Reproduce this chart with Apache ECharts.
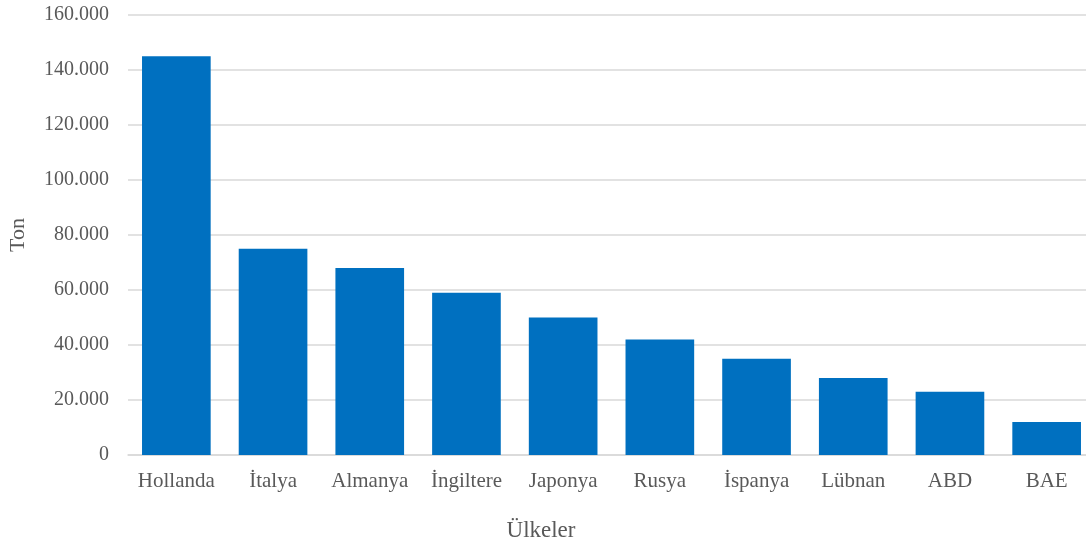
<!DOCTYPE html>
<html>
<head>
<meta charset="utf-8">
<script src="https://cdn.jsdelivr.net/npm/echarts@6/dist/echarts.min.js"></script>
<style>
html,body{margin:0;padding:0;background:#fff;}
#chart{width:1086px;height:544px;}
</style>
</head>
<body>
<div id="chart"></div>
<script>
const categories = ['Hollanda', 'İtalya', 'Almanya', 'İngiltere', 'Japonya', 'Rusya', 'İspanya', 'Lübnan', 'ABD', 'BAE'];
const values = [145000, 75000, 68000, 59000, 50000, 42000, 35000, 28000, 23000, 12000];
const yAxisTitle = 'Ton';
const xAxisTitle = 'Ülkeler';

const fmt = v => String(v).replace(/\B(?=(\d{3})+(?!\d))/g, '.');
const font = '"Liberation Serif", "Times New Roman", serif';
const chart = echarts.init(document.getElementById('chart'), null, {renderer: 'canvas'});
chart.setOption({
  animation: false,
  backgroundColor: '#ffffff',
  textStyle: {fontFamily: font},
  title: {
    text: xAxisTitle,
    left: 536, top: 514,
    textAlign: 'center',
    textStyle: {fontFamily: font, fontSize: 23, fontWeight: 'normal', color: '#595959'}
  },
  grid: {left: 128, right: -9, top: 15, bottom: 89, containLabel: false, outerBoundsMode: 'none'},
  xAxis: {
    type: 'category',
    data: categories,
    axisLine: {lineStyle: {color: '#d9d9d9', width: 1.5}},
    axisTick: {show: false},
    axisLabel: {color: '#595959', fontSize: 21, fontFamily: font, margin: 16, interval: 0}
  },
  yAxis: {
    type: 'value',
    min: 0, max: 160000, interval: 20000,
    name: yAxisTitle,
    nameLocation: 'middle',
    nameRotate: 90,
    nameGap: 99,
    nameTextStyle: {color: '#595959', fontSize: 22, fontFamily: font},
    axisLine: {show: false},
    axisTick: {show: false},
    splitLine: {lineStyle: {color: '#d9d9d9', width: 1.5}},
    axisLabel: {color: '#595959', fontSize: 20, fontFamily: font, margin: 19, formatter: fmt}
  },
  series: [{
    type: 'bar',
    data: values,
    barCategoryGap: '29%',
    itemStyle: {color: '#0070C0'}
  }]
});
</script>
</body>
</html>
